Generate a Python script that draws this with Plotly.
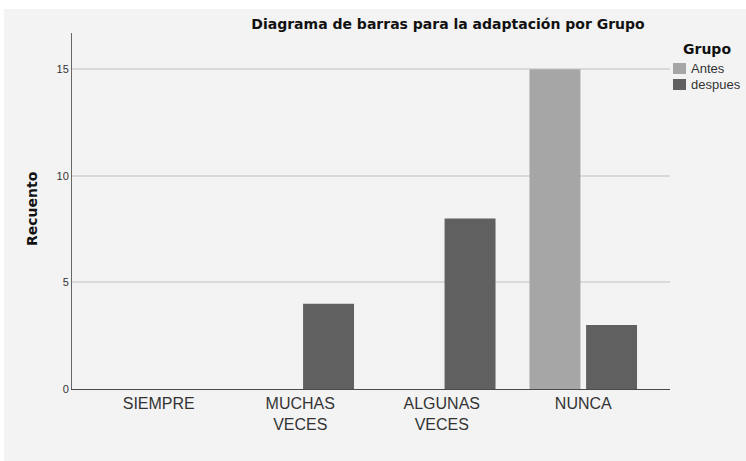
import plotly.graph_objects as go

categories = ["SIEMPRE", "MUCHAS<br>VECES", "ALGUNAS<br>VECES", "NUNCA"]
antes = [0, 0, 0, 15]
despues = [0, 4, 8, 3]
y_ticks = [0, 5, 10, 15]
series_names = ["Antes", "despues"]
series_colors = ["#a6a6a6", "#606060"]

FONT = "Liberation Sans, Arial, sans-serif"
WIDE = "DejaVu Sans, Liberation Sans, sans-serif"

fig = go.Figure()
for name, vals, col in zip(series_names, [antes, despues], series_colors):
    fig.add_trace(go.Bar(name=name, x=categories, y=vals,
                         marker=dict(color=col, line=dict(width=0)),
                         showlegend=False))

OFF = 0  # body margin removed by post_script below
W, H = 746, 461
PL, PR, PT, PB = 72, 670, 33, 389  # plot area in window pixels
L, T = PL - OFF, PT - OFF
R, B = W - (PR - OFF), H - (PB - OFF)
pw, ph = PR - PL, PB - PT

def px(x):
    return (x - PL) / pw

def py(y):
    return (PB - y) / ph

shapes = [dict(type="rect", xref="paper", yref="paper",
               x0=px(4), x1=px(760), y0=py(480), y1=py(9),
               fillcolor="#f3f3f3", line=dict(width=0), layer="below")]

annotations = [dict(text="<b>Recuento</b>", xref="paper", yref="paper",
                    x=px(32), y=py(209), textangle=-90, showarrow=False,
                    font=dict(size=14, color="#111111", family=WIDE),
                    xanchor="center", yanchor="middle"),
               dict(text="<b>Grupo</b>", xref="paper", yref="paper",
                    x=px(707), y=py(49), showarrow=False,
                    font=dict(size=14, color="#111111", family=WIDE),
                    xanchor="center", yanchor="middle")]

# manual legend
for i, (name, col) in enumerate(zip(series_names, series_colors)):
    top = 63 + 16 * i
    shapes.append(dict(type="rect", xref="paper", yref="paper",
                       x0=px(673), x1=px(686), y0=py(top + 11), y1=py(top),
                       fillcolor=col, line=dict(width=0)))
    annotations.append(dict(text=name, xref="paper", yref="paper",
                            x=px(689), y=py(top + 5.5), showarrow=False,
                            font=dict(size=13, color="#333333", family=FONT),
                            xanchor="left", yanchor="middle"))

fig.update_layout(
    width=W, height=H,
    margin=dict(l=L, r=R, t=T, b=B, autoexpand=False),
    paper_bgcolor="white",
    plot_bgcolor="rgba(0,0,0,0)",
    barmode="group", bargap=0.2, bargroupgap=0.1,
    showlegend=False,
    font=dict(family=FONT, color="#333333"),
    title=dict(text="<b>Diagrama de barras para la adaptación por Grupo</b>",
               font=dict(size=14, color="#111111", family=WIDE),
               x=px(448), xref="paper", xanchor="center",
               y=1 - (24 - OFF) / H, yanchor="middle"),
    xaxis=dict(range=[-0.613, 3.613], showline=True, linecolor="#4a4a4a", linewidth=1.3,
               tickfont=dict(size=16, color="#333333", family=FONT), ticks="",
               showgrid=False, automargin=False),
    yaxis=dict(range=[0, 16.7], tickvals=y_ticks, showline=True, linecolor="#666666",
               linewidth=1, showgrid=True, gridcolor="#d9d9d9", gridwidth=1.5,
               zeroline=False, ticks="", tickfont=dict(size=11, color="#333333"),
               automargin=False),
    shapes=shapes,
    annotations=annotations,
)

fig.write_html("out.html",
               config={"displayModeBar": False},
               post_script="document.body.style.margin='0';"
                           "document.body.style.overflow='hidden';")
